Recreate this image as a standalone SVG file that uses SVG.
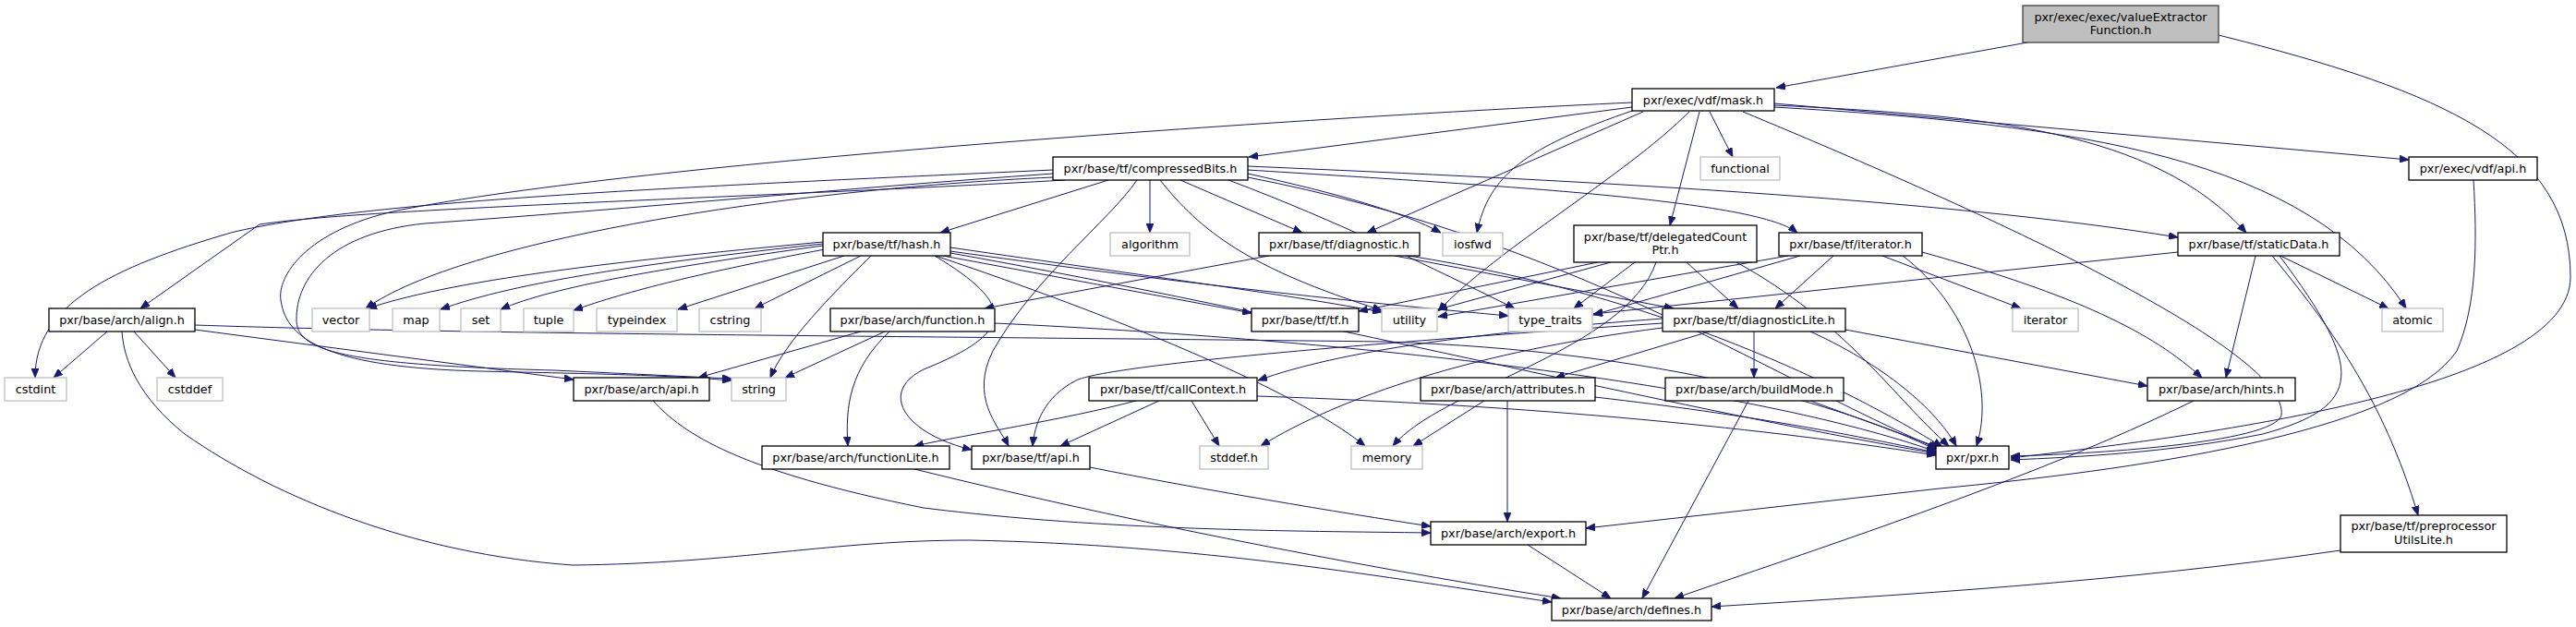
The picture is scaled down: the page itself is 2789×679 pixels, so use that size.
<svg xmlns="http://www.w3.org/2000/svg" width="2789" height="679" viewBox="0 0 2789 679">
<defs>
<marker id="ah" markerWidth="10" markerHeight="8" refX="10" refY="4" orient="auto" markerUnits="userSpaceOnUse">
<path d="M0,0 L10,4 L0,8 z" fill="#191970" stroke="#191970" stroke-width="0.8"/>
</marker>
<style>
.n rect{fill:#fff;stroke:#000;stroke-width:1.3}
.x rect{fill:#fff;stroke:#bfbfbf;stroke-width:1.3}
.r rect{fill:#bfbfbf;stroke:#404040;stroke-width:1.3}
text{font-family:"DejaVu Sans","Liberation Sans",sans-serif;font-size:12.8px;fill:#000;text-anchor:middle}
#edges path{fill:none;stroke:#191970;stroke-width:1;marker-end:url(#ah)}
</style>
</defs>
<rect width="2789" height="679" fill="#fff"/>
<g id="edges">
<path d="M2195,46 L1923,95"/>
<path d="M2402,38 C2650,100 2783,160 2783,300 C2783,420 2400,470 2177,496"/>
<path d="M1767,116 L1352,170"/>
<path d="M1921,112 L2608,173"/>
<path d="M1921,114 C2150,125 2330,140 2432,252"/>
<path d="M1921,116 C2250,135 2500,170 2605,334"/>
<path d="M1851,121 L1876,170"/>
<path d="M1840,121 L1808,244"/>
<path d="M1779,121 L1480,252"/>
<path d="M1770,119 C1650,160 1612,190 1599,252"/>
<path d="M1829,121 C1760,190 1620,270 1557,337"/>
<path d="M1887,121 C2150,230 2480,380 2470,450 C2460,480 2260,492 2177,494"/>
<path d="M1767,111 C1400,128 700,175 430,228 C330,250 300,300 304,325 C310,370 360,398 520,402 C650,405 720,406 792,412"/>
<path d="M1140,188 C900,205 700,225 460,242 C360,252 320,300 321,347 C322,380 370,395 600,401 L792,410"/>
<path d="M1140,184 C800,200 400,215 250,252 C120,290 38,330 38,409"/>
<path d="M1153,195 C800,215 400,225 281,243 L152,334"/>
<path d="M1140,192 C850,205 500,260 396,334"/>
<path d="M891,262 C700,280 500,300 398,334"/>
<path d="M891,264 C700,285 560,305 477,335"/>
<path d="M891,266 C720,290 600,310 542,335"/>
<path d="M893,270 C760,295 680,315 621,336"/>
<path d="M914,277 L734,335"/>
<path d="M932,277 L817,334"/>
<path d="M943,277 C900,320 850,370 834,409"/>
<path d="M1012,277 C1100,330 1100,360 1000,400 C950,425 980,470 1052,487"/>
<path d="M1021,277 L1355,339"/>
<path d="M1029,268 C1250,300 1400,320 1496,338"/>
<path d="M1029,272 C1300,310 1500,330 1633,342"/>
<path d="M1013,277 C1200,340 1400,420 1478,483"/>
<path d="M1029,274 C1400,340 1800,440 2096,491"/>
<path d="M1200,195 L1018,252"/>
<path d="M1245,195 L1245,252"/>
<path d="M1231,195 C1200,240 1120,300 1075,380 C1050,430 1080,460 1092,483"/>
<path d="M1278,195 L1410,252"/>
<path d="M1256,195 C1300,250 1350,290 1496,336"/>
<path d="M1330,195 C1450,240 1550,290 1640,334"/>
<path d="M1351,188 C1450,210 1520,230 1560,252"/>
<path d="M1351,184 C1600,200 1900,215 1946,252"/>
<path d="M1351,180 C1700,195 2100,215 2358,257"/>
<path d="M1351,192 C1700,260 1900,400 2098,486"/>
<path d="M1374,277 L1066,334"/>
<path d="M1800,350 C1500,370 1200,395 1165,412 C1130,430 1120,460 1118,483"/>
<path d="M1510,277 L1812,334"/>
<path d="M1525,277 C1800,320 2000,420 2103,484"/>
<path d="M932,359 L756,409"/>
<path d="M958,359 L850,409"/>
<path d="M963,359 C920,400 915,440 918,483"/>
<path d="M1077,350 C1500,370 1900,420 2096,489"/>
<path d="M707,434 C740,470 800,510 1000,550 C1200,575 1400,575 1549,577"/>
<path d="M116,359 L58,409"/>
<path d="M145,359 L190,409"/>
<path d="M211,357 L621,411"/>
<path d="M211,352 C500,362 1000,364 1500,370 C1800,380 2000,440 2096,487"/>
<path d="M132,359 C134,390 150,430 200,470 C300,540 450,600 620,612 C800,610 900,585 1050,585 C1300,590 1500,625 1680,652"/>
<path d="M1180,506 C1300,530 1450,555 1549,570"/>
<path d="M990,508 C1200,560 1450,610 1690,648"/>
<path d="M1230,434 C1150,455 1050,470 990,483"/>
<path d="M1255,434 L1148,483"/>
<path d="M1290,434 L1320,483"/>
<path d="M1361,429 C1700,440 1950,470 2096,493"/>
<path d="M1730,284 L1471,337"/>
<path d="M1744,284 L1557,335"/>
<path d="M1770,284 L1704,334"/>
<path d="M1826,284 L1882,334"/>
<path d="M1793,284 C1760,380 1560,420 1508,483"/>
<path d="M1880,284 C2000,350 2050,430 2110,483"/>
<path d="M1985,277 L1922,334"/>
<path d="M1949,277 L1725,341"/>
<path d="M1936,277 L1557,343"/>
<path d="M2038,277 L2188,334"/>
<path d="M2081,273 C2250,320 2330,360 2384,409"/>
<path d="M2060,277 C2130,330 2160,420 2140,483"/>
<path d="M2358,273 L1725,340"/>
<path d="M2442,277 L2410,409"/>
<path d="M2469,277 L2586,334"/>
<path d="M2460,277 C2520,350 2580,430 2618,558"/>
<path d="M2468,277 C2560,400 2560,440 2450,470 C2350,490 2250,495 2177,498"/>
<path d="M1851,359 L1684,409"/>
<path d="M1899,359 L1899,409"/>
<path d="M1998,357 L2325,418"/>
<path d="M1800,345 C1600,360 1450,380 1362,412"/>
<path d="M1800,355 C1600,380 1450,430 1365,483"/>
<path d="M1960,359 C2050,400 2100,450 2118,483"/>
<path d="M1607,434 L1530,483"/>
<path d="M1632,434 L1632,565"/>
<path d="M1727,430 C1900,450 2000,470 2096,490"/>
<path d="M1893,434 L1778,648"/>
<path d="M1960,434 L2100,485"/>
<path d="M2375,434 C2200,520 1950,600 1813,648"/>
<path d="M1654,590 L1744,648"/>
<path d="M2534,596 C2300,630 2050,645 1853,657"/>
<path d="M2678,195 C2682,260 2682,330 2660,380 C2600,470 2300,510 2100,529 L1717,572"/>
</g>
<g id="n_ve" class="r"><rect x="2190" y="6" width="212" height="40"/><text x="2296" y="23">pxr/exec/exec/valueExtractor</text><text x="2296" y="37">Function.h</text></g>
<g id="n_mask" class="n"><rect x="1767" y="96" width="154" height="24"/><text x="1844" y="112.5">pxr/exec/vdf/mask.h</text></g>
<g id="n_functional" class="x"><rect x="1841" y="170" width="86" height="25"/><text x="1884" y="187">functional</text></g>
<g id="n_cbits" class="n"><rect x="1140" y="170" width="211" height="25"/><text x="1245.5" y="187">pxr/base/tf/compressedBits.h</text></g>
<g id="n_vdfapi" class="n"><rect x="2608" y="170" width="139" height="25"/><text x="2677.5" y="187">pxr/exec/vdf/api.h</text></g>
<g id="n_align" class="n"><rect x="53" y="334" width="158" height="25"/><text x="132" y="351">pxr/base/arch/align.h</text></g>
<g id="n_vector" class="x"><rect x="338" y="334" width="62" height="25"/><text x="369" y="351">vector</text></g>
<g id="n_map" class="x"><rect x="425" y="334" width="51" height="25"/><text x="450.5" y="351">map</text></g>
<g id="n_set" class="x"><rect x="499" y="334" width="43" height="25"/><text x="520.5" y="351">set</text></g>
<g id="n_tuple" class="x"><rect x="567" y="334" width="54" height="25"/><text x="594" y="351">tuple</text></g>
<g id="n_typeindex" class="x"><rect x="646" y="334" width="87" height="25"/><text x="689.5" y="351">typeindex</text></g>
<g id="n_cstdint" class="x"><rect x="5" y="409" width="67" height="25"/><text x="38.5" y="426">cstdint</text></g>
<g id="n_cstddef" class="x"><rect x="170" y="409" width="71" height="25"/><text x="205.5" y="426">cstddef</text></g>
<g id="n_archapi" class="n"><rect x="621" y="409" width="147" height="25"/><text x="694.5" y="426">pxr/base/arch/api.h</text></g>
<g id="n_hash" class="n"><rect x="891" y="252" width="138" height="25"/><text x="960" y="269">pxr/base/tf/hash.h</text></g>
<g id="n_algorithm" class="x"><rect x="1202" y="252" width="86" height="25"/><text x="1245" y="269">algorithm</text></g>
<g id="n_diag" class="n"><rect x="1363" y="252" width="174" height="25"/><text x="1450" y="269">pxr/base/tf/diagnostic.h</text></g>
<g id="n_cstring" class="x"><rect x="757" y="334" width="67" height="25"/><text x="790.5" y="351">cstring</text></g>
<g id="n_afunc" class="n"><rect x="899" y="334" width="178" height="25"/><text x="988" y="351">pxr/base/arch/function.h</text></g>
<g id="n_tfh" class="n"><rect x="1355" y="334" width="116" height="25"/><text x="1413" y="351">pxr/base/tf/tf.h</text></g>
<g id="n_string" class="x"><rect x="792" y="409" width="59" height="25"/><text x="821.5" y="426">string</text></g>
<g id="n_callctx" class="n"><rect x="1179" y="409" width="182" height="25"/><text x="1270" y="426">pxr/base/tf/callContext.h</text></g>
<g id="n_iosfwd" class="x"><rect x="1562" y="252" width="65" height="25"/><text x="1594.5" y="269">iosfwd</text></g>
<g id="n_dcp" class="n"><rect x="1704" y="244" width="198" height="40"/><text x="1803" y="261">pxr/base/tf/delegatedCount</text><text x="1803" y="275">Ptr.h</text></g>
<g id="n_iter" class="n"><rect x="1926" y="252" width="155" height="25"/><text x="2003.5" y="269">pxr/base/tf/iterator.h</text></g>
<g id="n_utility" class="x"><rect x="1496" y="334" width="60" height="25"/><text x="1526" y="351">utility</text></g>
<g id="n_typetraits" class="x"><rect x="1633" y="334" width="91" height="25"/><text x="1678.5" y="351">type_traits</text></g>
<g id="n_dlite" class="n"><rect x="1800" y="334" width="198" height="25"/><text x="1899" y="351">pxr/base/tf/diagnosticLite.h</text></g>
<g id="n_attr" class="n"><rect x="1538" y="409" width="189" height="25"/><text x="1632.5" y="426">pxr/base/arch/attributes.h</text></g>
<g id="n_bmode" class="n"><rect x="1803" y="409" width="193" height="25"/><text x="1899.5" y="426">pxr/base/arch/buildMode.h</text></g>
<g id="n_sdata" class="n"><rect x="2358" y="252" width="175" height="25"/><text x="2445.5" y="269">pxr/base/tf/staticData.h</text></g>
<g id="n_iterator" class="x"><rect x="2179" y="334" width="71" height="25"/><text x="2214.5" y="351">iterator</text></g>
<g id="n_atomic" class="x"><rect x="2579" y="334" width="66" height="25"/><text x="2612" y="351">atomic</text></g>
<g id="n_hints" class="n"><rect x="2325" y="409" width="160" height="25"/><text x="2405" y="426">pxr/base/arch/hints.h</text></g>
<g id="n_flite" class="n"><rect x="825" y="483" width="203" height="25"/><text x="926.5" y="500">pxr/base/arch/functionLite.h</text></g>
<g id="n_tfapi" class="n"><rect x="1052" y="483" width="128" height="25"/><text x="1116" y="500">pxr/base/tf/api.h</text></g>
<g id="n_stddef" class="x"><rect x="1299" y="483" width="74" height="25"/><text x="1336" y="500">stddef.h</text></g>
<g id="n_memory" class="x"><rect x="1463" y="483" width="77" height="25"/><text x="1501.5" y="500">memory</text></g>
<g id="n_pxr" class="n"><rect x="2096" y="483" width="79" height="25"/><text x="2135.5" y="500">pxr/pxr.h</text></g>
<g id="n_export" class="n"><rect x="1549" y="565" width="168" height="25"/><text x="1633" y="582">pxr/base/arch/export.h</text></g>
<g id="n_defines" class="n"><rect x="1680" y="648" width="173" height="24"/><text x="1766.5" y="664.5">pxr/base/arch/defines.h</text></g>
<g id="n_preproc" class="n"><rect x="2534" y="558" width="180" height="40"/><text x="2624" y="574">pxr/base/tf/preprocessor</text><text x="2624" y="589">UtilsLite.h</text></g>
</svg>
